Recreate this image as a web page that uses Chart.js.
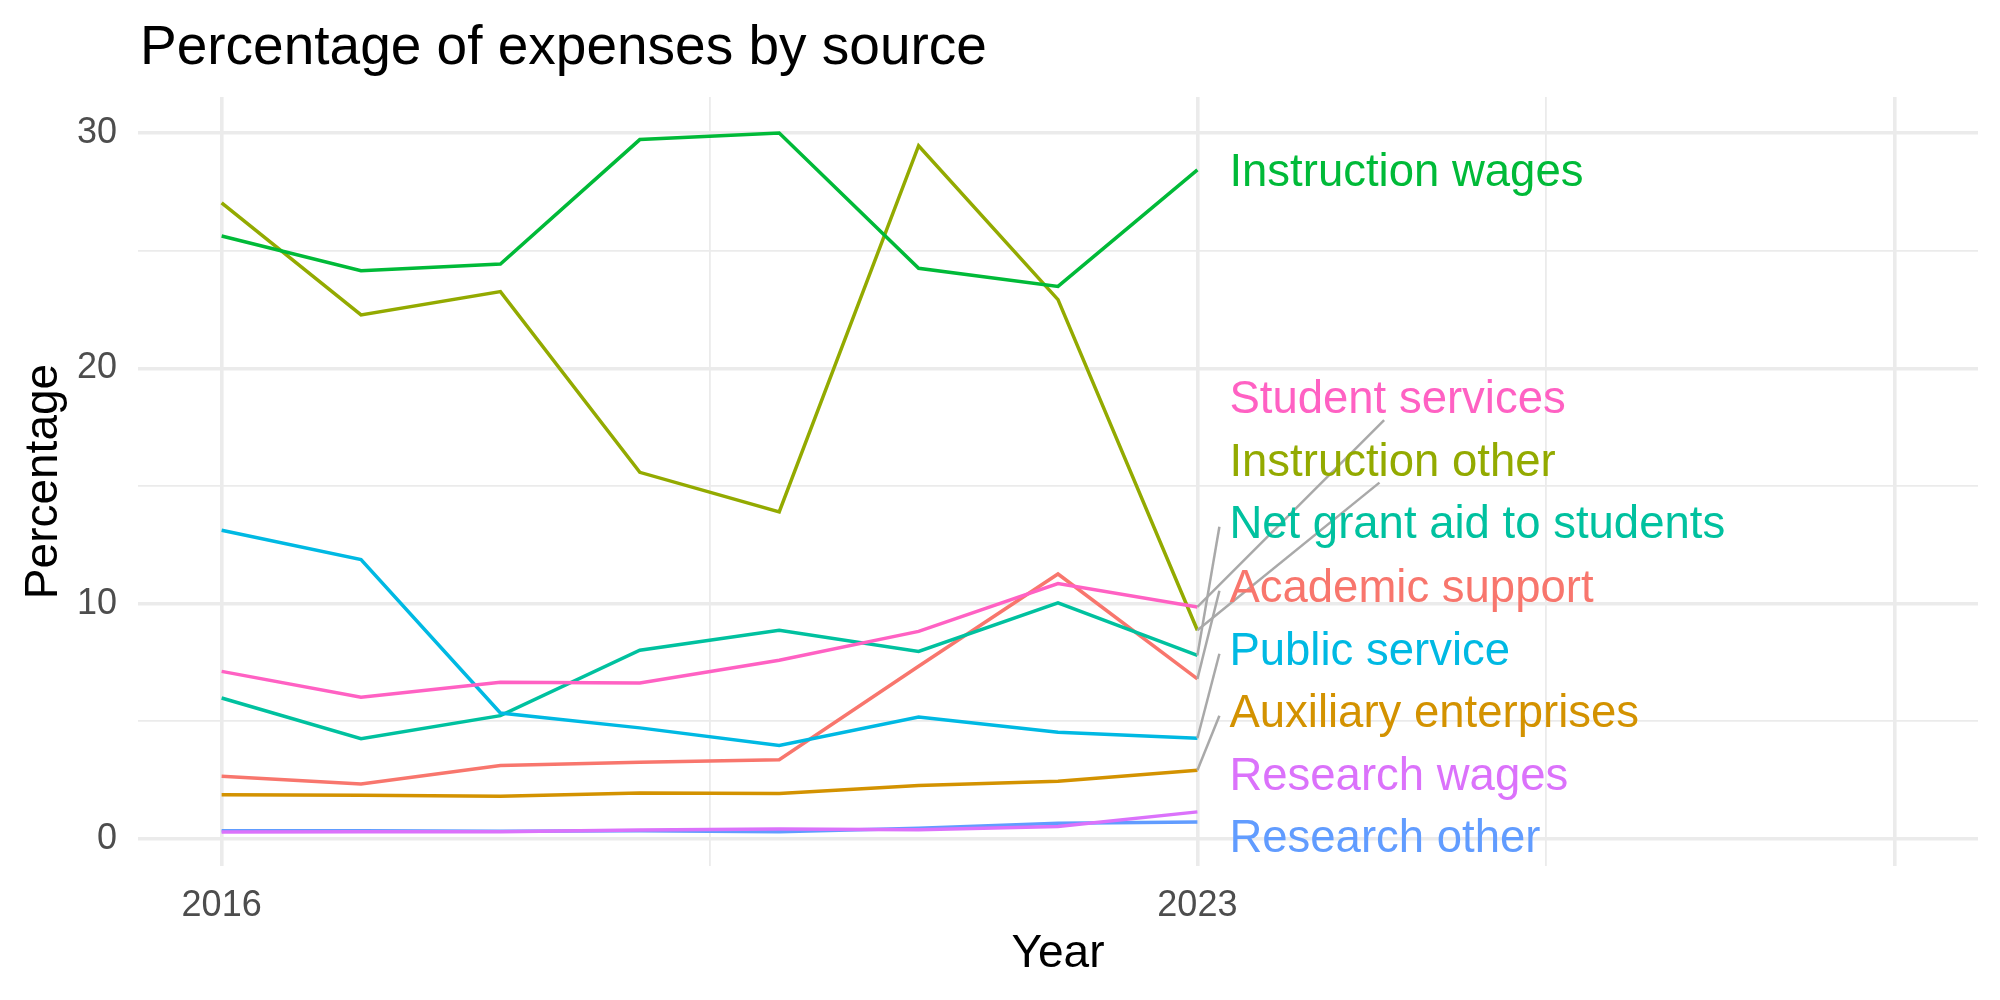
<!DOCTYPE html>
<html>
<head>
<meta charset="utf-8">
<title>Percentage of expenses by source</title>
<script src="https://cdn.jsdelivr.net/npm/chart.js@4.4.1/dist/chart.umd.min.js"></script>
<style>
  html, body { margin: 0; padding: 0; background: #ffffff; }
  canvas { display: block; }
</style>
</head>
<body>
<canvas id="grafica" width="2000" height="1000"></canvas>
<script>
// datos del grafico
const years = [2016, 2017, 2018, 2019, 2020, 2021, 2022, 2023];

const seriesNames = [
  'Academic support',
  'Auxiliary enterprises',
  'Instruction other',
  'Instruction wages',
  'Net grant aid to students',
  'Public service',
  'Research other',
  'Research wages',
  'Student services'
];

const academicSupport      = [2.66, 2.34, 3.12, 3.26, 3.37, 7.34, 11.26, 6.80];
const auxiliaryEnterprises = [1.88, 1.86, 1.81, 1.95, 1.93, 2.27, 2.45, 2.92];
const instructionOther     = [27.03, 22.27, 23.26, 15.58, 13.90, 29.46, 22.92, 8.87];
const instructionWages     = [25.62, 24.15, 24.43, 29.72, 30.00, 24.25, 23.48, 28.43];
const netGrantAid          = [5.99, 4.26, 5.24, 8.02, 8.87, 7.97, 10.03, 7.80];
const publicService        = [13.12, 11.87, 5.35, 4.72, 3.97, 5.18, 4.53, 4.28];
const researchOther        = [0.35, 0.35, 0.33, 0.35, 0.31, 0.45, 0.67, 0.72];
const researchWages        = [0.30, 0.31, 0.31, 0.38, 0.42, 0.39, 0.53, 1.15];
const studentServices      = [7.12, 6.02, 6.66, 6.63, 7.59, 8.82, 10.85, 9.86];

const seriesValues = [academicSupport, auxiliaryEnterprises, instructionOther, instructionWages,
  netGrantAid, publicService, researchOther, researchWages, studentServices];

// colores ggplot (hue)
const seriesColors = ['#F8766D', '#D39200', '#93AA00', '#00BA38', '#00C19F',
  '#00B9E3', '#619CFF', '#DB72FB', '#FF61C3'];

// ticks de los ejes
const xMajor = [2016, 2023, 2028];
const xMinor = [2019.5, 2025.5];
const xTickLabels = [2016, 2023];
const yMajor = [0, 10, 20, 30];
const yMinor = [5, 15, 25];

// posicion de las etiquetas (repel) y tipo de conector
const labelY = [10.76, 5.45, 16.12, 28.43, 13.48, 8.08, 0.12, 2.78, 18.78];
const labelLink = ['left', 'left', 'bottom', 'none', 'left', 'left', 'none', 'none', 'bottom'];

const FONT = "'Liberation Sans', Arial, Helvetica, sans-serif";

const datasets = seriesNames.map((name, i) => ({
  label: name,
  data: years.map((yr, j) => ({ x: yr, y: seriesValues[i][j] })),
  borderColor: seriesColors[i],
  backgroundColor: seriesColors[i],
  borderWidth: 3.5,
  pointRadius: 0,
  tension: 0,
  fill: false,
  order: seriesNames.length - i
}));

// dibuja titulo, etiquetas y conectores
const repelLabels = {
  id: 'repelLabels',
  afterDatasetsDraw(chart) {
    const c = chart.ctx;
    const xs = chart.scales.x;
    const ys = chart.scales.y;
    const lastYear = years[years.length - 1];
    const px0 = xs.getPixelForValue(lastYear);
    const textLeft = px0 + 32;
    c.save();
    c.font = '45.5px ' + FONT;
    c.textAlign = 'left';
    c.textBaseline = 'alphabetic';
    seriesNames.forEach((name, i) => {
      const vals = seriesValues[i];
      const py0 = ys.getPixelForValue(vals[vals.length - 1]);
      const ly = ys.getPixelForValue(labelY[i]);
      const w = c.measureText(name).width;
      let ex = null, ey = null;
      if (labelLink[i] === 'left') {
        ex = textLeft - 10;
        ey = ly + 5;
      } else if (labelLink[i] === 'bottom') {
        ex = textLeft + w * 0.46;
        ey = ly + 23;
      }
      if (ex !== null) {
        c.strokeStyle = '#A9A9A9';
        c.lineWidth = 2.5;
        c.beginPath();
        c.moveTo(px0, py0);
        c.lineTo(ex, ey);
        c.stroke();
      }
    });
    seriesNames.forEach((name, i) => {
      c.fillStyle = seriesColors[i];
      c.fillText(name, textLeft, ys.getPixelForValue(labelY[i]) + 16);
    });
    // titulo
    c.fillStyle = '#000000';
    c.font = '55px ' + FONT;
    c.fillText('Percentage of expenses by source', 140, 64);
    c.restore();
  }
};

document.addEventListener('DOMContentLoaded', () => {
  const ctx = document.getElementById('grafica').getContext('2d');
  const myChart = new Chart(ctx, {
    type: 'line',
    data: { datasets: datasets },
    options: {
      responsive: false,
      animation: false,
      layout: { padding: { top: 97, right: 22, bottom: 0, left: 0 } },
      plugins: {
        legend: { display: false },
        tooltip: { enabled: false },
        title: { display: false }
      },
      scales: {
        x: {
          type: 'linear',
          min: 2015.4,
          max: 2028.6,
          afterBuildTicks: (s) => {
            s.ticks = xMajor.concat(xMinor).sort((a, b) => a - b).map(v => ({ value: v }));
          },
          afterFit: (s) => { s.height = 134; },
          ticks: {
            autoSkip: false,
            maxRotation: 0,
            padding: 18,
            color: '#4D4D4D',
            font: { family: FONT, size: 36 },
            callback: (v) => xTickLabels.includes(v) ? String(v) : ''
          },
          grid: {
            drawTicks: false,
            color: '#EBEBEB',
            lineWidth: (c) => xMajor.includes(c.tick.value) ? 3.6 : 1.8
          },
          border: { display: false },
          title: {
            display: true,
            text: 'Year',
            color: '#000000',
            font: { family: FONT, size: 46 },
            padding: { top: 0, bottom: 18 }
          }
        },
        y: {
          min: -1.15,
          max: 31.53,
          afterBuildTicks: (s) => {
            s.ticks = yMajor.concat(yMinor).sort((a, b) => a - b).map(v => ({ value: v }));
          },
          afterFit: (s) => { s.width = 138; },
          ticks: {
            padding: 21,
            color: '#4D4D4D',
            font: { family: FONT, size: 36 },
            callback: (v) => yMajor.includes(v) ? String(v) : ''
          },
          grid: {
            drawTicks: false,
            color: '#EBEBEB',
            lineWidth: (c) => yMajor.includes(c.tick.value) ? 3.6 : 1.8
          },
          border: { display: false },
          title: {
            display: true,
            text: 'Percentage',
            color: '#000000',
            font: { family: FONT, size: 46 },
            padding: { top: 17, bottom: 17 }
          }
        }
      }
    },
    plugins: [repelLabels]
  });
});
</script>
</body>
</html>
